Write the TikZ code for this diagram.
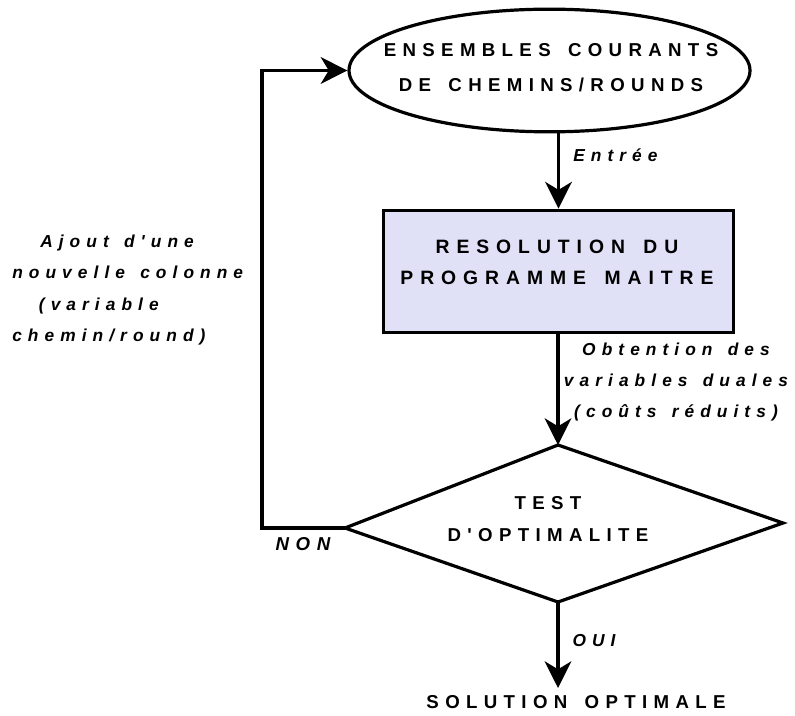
\documentclass[tikz,border=0pt]{standalone}
\usepackage{fontspec}
\setmainfont{Liberation Sans}
\newfontfamily\boxf{Liberation Sans}[LetterSpace=34,WordSpace=1.5]
\newfontfamily\rectf{Liberation Sans}[LetterSpace=36,WordSpace=1.5]
\newfontfamily\lblf{Liberation Sans}[LetterSpace=35,WordSpace=1.4]
\usetikzlibrary{arrows.meta,shapes.geometric}
\definecolor{lav}{RGB}{224,224,246}
\tikzset{
  ln/.style={line width=2.4pt},
  arr/.style={ln,-{Stealth[length=20pt,width=20pt,inset=6pt]}},
  boxtxt/.style={font=\boxf\bfseries\fontsize{14}{24}\selectfont,align=center,inner sep=0pt},
  lbl/.style={font=\lblf\bfseries\itshape\fontsize{13}{23.5}\selectfont,inner sep=0pt}
}
\begin{document}
\begin{tikzpicture}[x=0.75pt,y=-0.75pt]
\useasboundingbox (0,0) rectangle (795,716);
% start ellipse
\node[ellipse,draw,ln,minimum width=300.75pt,minimum height=92pt,inner sep=0pt] (ens) at (549.5,70.5) {};
\node[boxtxt,font=\boxf\bfseries\fontsize{14}{26}\selectfont] (enstxt) at (551,67.5)
  {ENSEMBLES COURANTS\\DE CHEMINS/ROUNDS};
% master problem box
\node[rectangle,draw,ln,fill=lav,minimum width=263pt,minimum height=92pt,inner sep=0pt] (resol) at (558.5,271.5) {};
\node[boxtxt,font=\rectf\bfseries\fontsize{14.5}{23.25}\selectfont] (resoltxt) at (557,262.5) {RESOLUTION DU\\PROGRAMME MAITRE};
% diamond
\coordinate (dtop) at (558,445);
\coordinate (dright) at (783,523);
\coordinate (dbot) at (558,602);
\coordinate (dleft) at (345,528);
\draw[ln,line join=miter] (dtop) -- (dright) -- (dbot) -- (dleft) -- cycle;
\node[boxtxt] (test) at (548,519) {TEST\\D'OPTIMALITE};
% result
\node[boxtxt] (sol) at (576,702) {SOLUTION OPTIMALE};
\coordinate (loopx) at (262,0);
% connectors
\draw[arr] (resol.north |- ens.south) -- (resol.north);
\draw[arr] (resol.south -| dtop) -- (dtop);
\draw[arr] (dbot) -- (dbot |- 0,688);
\draw[arr] (dleft) -- (dleft -| loopx) |- (ens.west);
% labels
\node[lbl,anchor=west] (entree) at (573,155) {Entrée};
\node[lbl,align=center] (obt) at (676,382) {Obtention des\\variables duales\\(coûts réduits)};
\node[lbl,align=left,anchor=west] (ajout) at (12,290)
  {\hspace*{21pt}Ajout d'une\\nouvelle colonne\\\hspace*{20pt}(variable\\chemin/round)};
\node[lbl,font=\lblf\bfseries\itshape\fontsize{14}{20}\selectfont] (non) at (303,544) {NON};
\node[lbl] (oui) at (594,641) {OUI};
\end{tikzpicture}
\end{document}
